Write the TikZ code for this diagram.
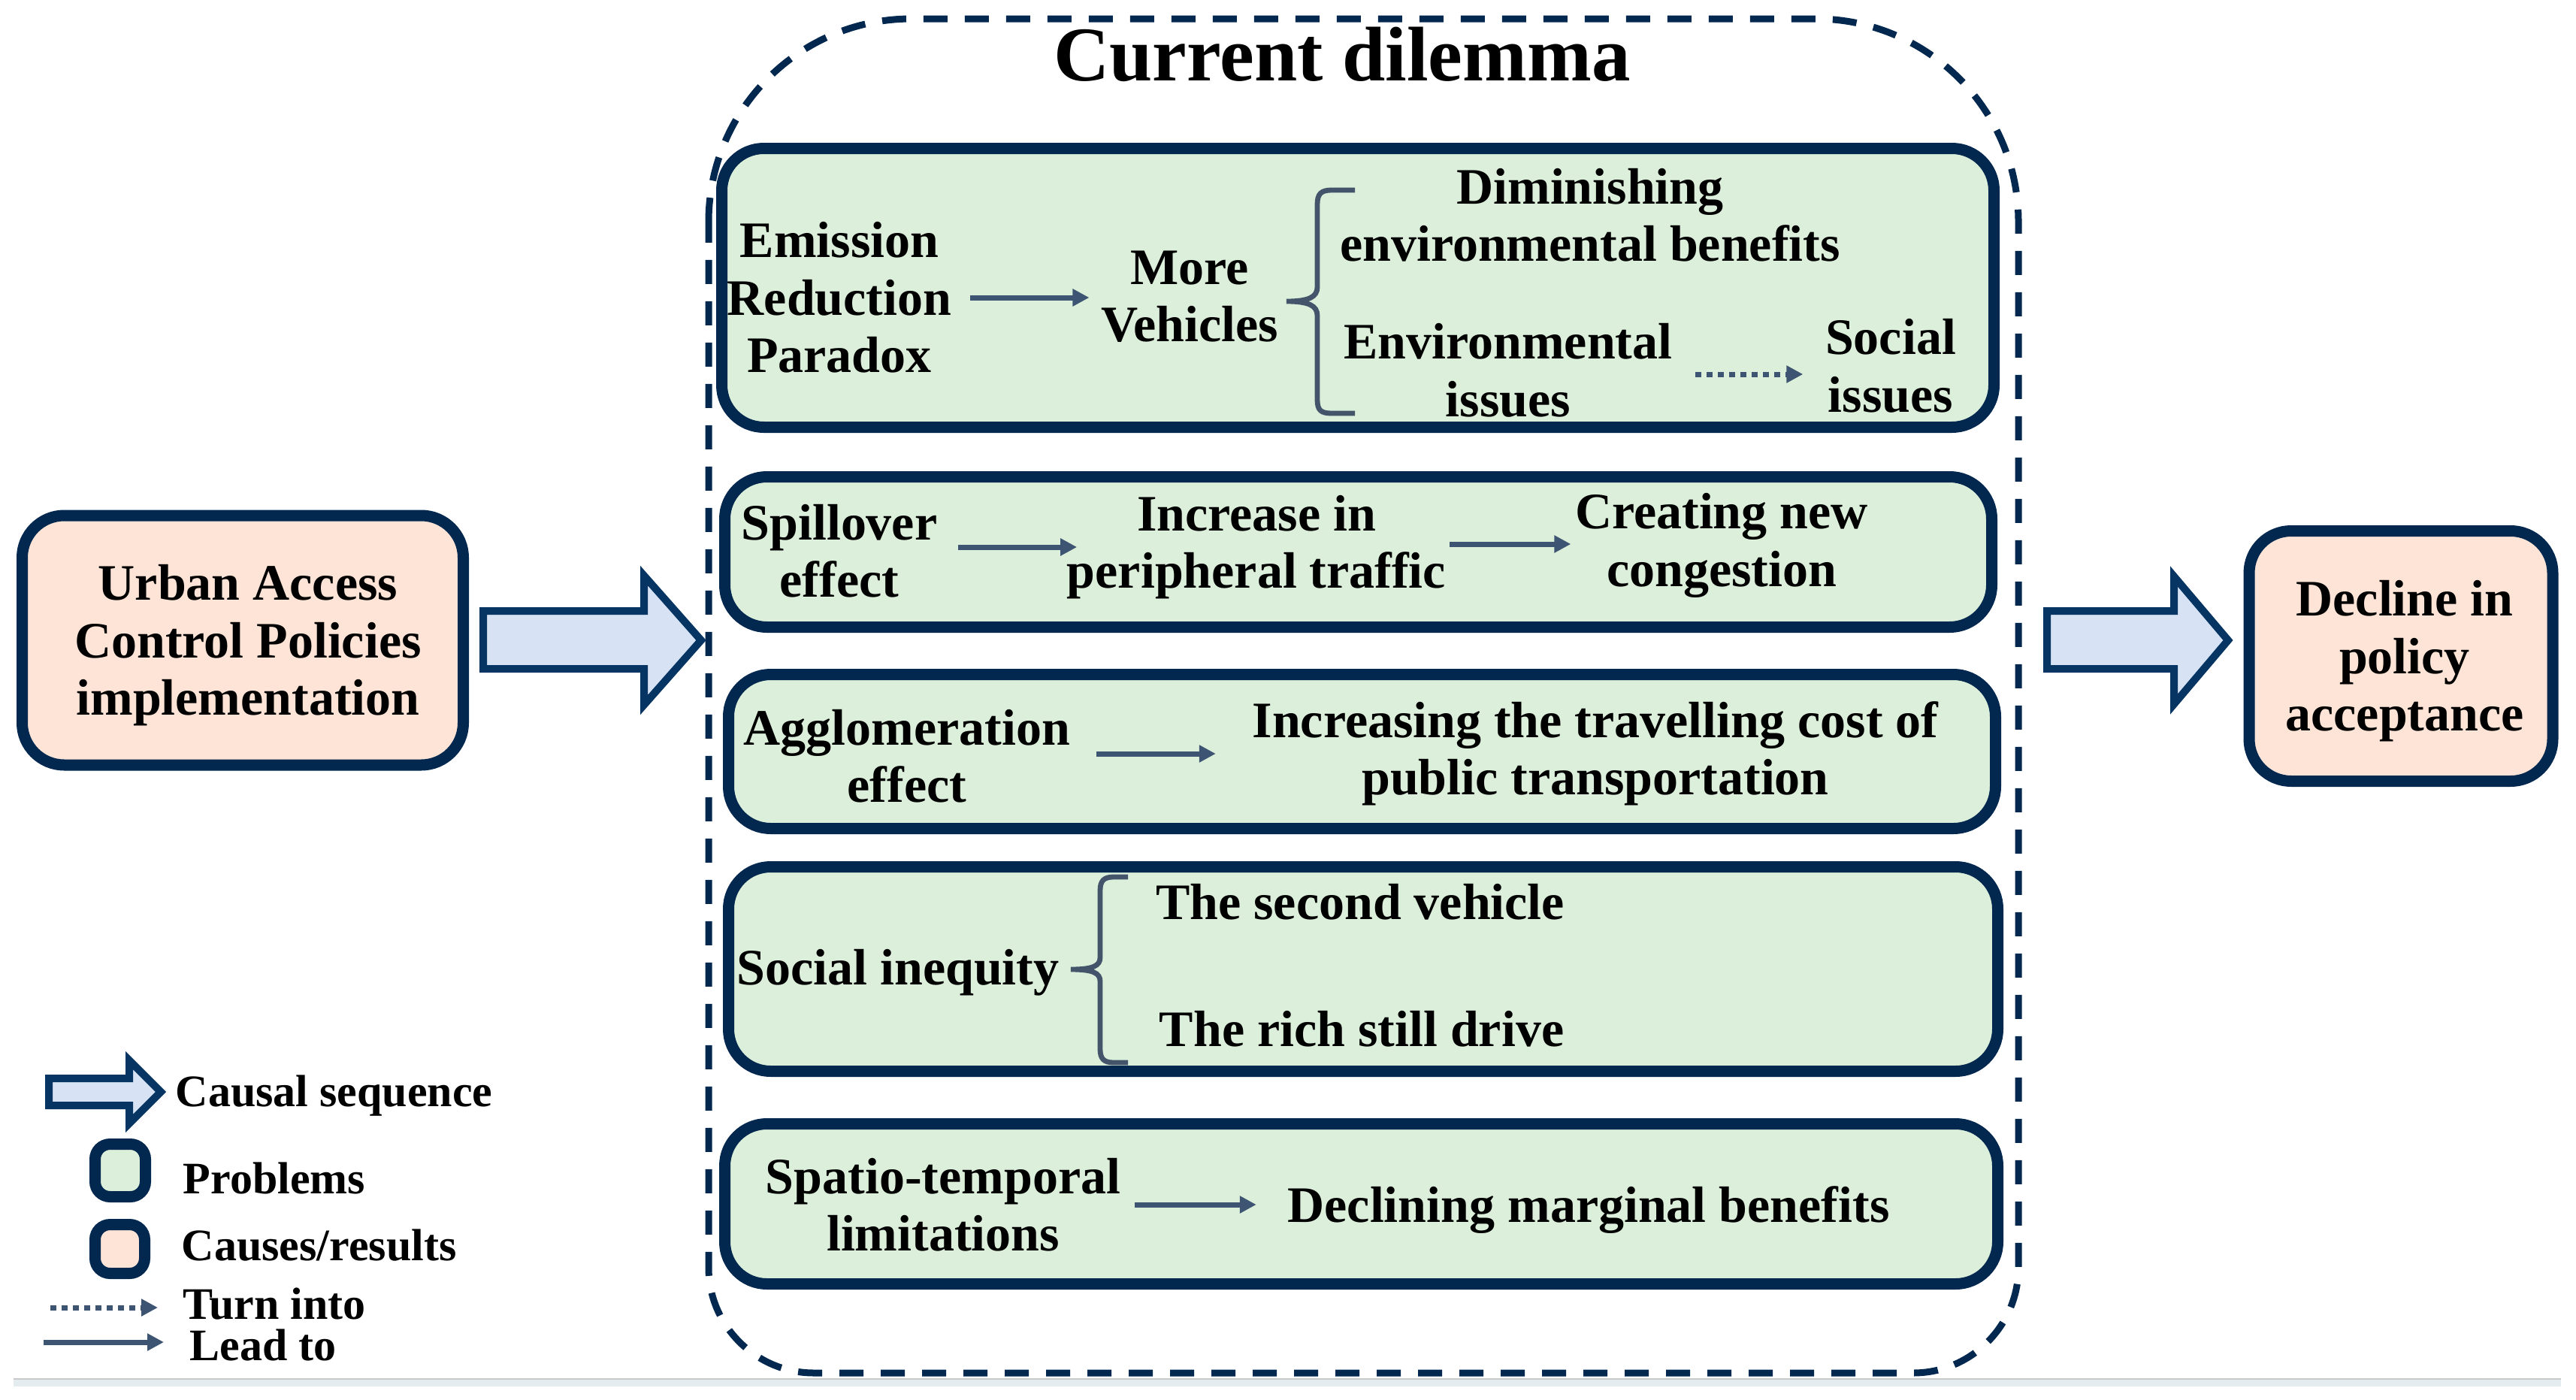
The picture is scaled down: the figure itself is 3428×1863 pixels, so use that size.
\documentclass[tikz,border=0pt]{standalone}
\usepackage{fontspec}
\setmainfont{Liberation Serif}
\usetikzlibrary{arrows.meta}
\definecolor{navy}{HTML}{03284F}
\definecolor{probgreen}{HTML}{DCEFDA}
\definecolor{peach}{HTML}{FDE4D6}
\definecolor{arrowfill}{HTML}{D7E3F4}
\definecolor{arrowborder}{HTML}{063563}
\definecolor{conn}{HTML}{3D5572}
\definecolor{bracecol}{HTML}{44546A}
\definecolor{bandfill}{HTML}{E4ECF0}
\definecolor{bandline}{HTML}{C9C9C9}
\begin{document}
\begin{tikzpicture}[x=0.25pt,y=-0.25pt,
  txt/.style={font=\fontsize{17}{19.1}\selectfont\bfseries, align=center, inner sep=0pt, text=black},
  legtxt/.style={font=\fontsize{15}{17}\selectfont\bfseries, anchor=west, inner sep=0pt, text=black},
  probbox/.style={draw=navy, line width=3.75pt, fill=probgreen, rounded corners=14pt},
  causebox/.style={draw=navy, line width=3.75pt, fill=peach, rounded corners=14pt},
  lead/.style={draw=conn, line width=1.75pt, -{Triangle[length=5.5pt,width=5.5pt]}},
  turn/.style={lead, dash pattern=on 2pt off 1.75pt},
  bigarrow/.style={draw=arrowborder, line width=2.5pt, fill=arrowfill, line join=miter},
  container/.style={draw=navy, line width=2.25pt, dash pattern=on 8pt off 5.75pt},
  bracestyle/.style={draw=bracecol, line width=1.7pt}
]
\useasboundingbox (0,0) rectangle (3428,1863);

% bottom band
\fill[bandfill] (18,1835) rectangle (3408,1845);
\draw[bandline, line width=0.5pt] (18,1835) -- (3408,1835);

% dashed container
\draw[container] (943,295) .. controls (943,146) and (1064,25) .. (1213,25) -- (2416,25)
  .. controls (2565,25) and (2686,146) .. (2686,295) -- (2686,1687)
  .. controls (2686,1764) and (2623,1827) .. (2546,1827) -- (1083,1827)
  .. controls (1006,1827) and (943,1764) .. (943,1687) -- cycle;

\node[font=\fontsize{25.75}{30}\selectfont\bfseries, anchor=base, inner sep=0pt] (title) at (1786,108) {Current dilemma};

% problem boxes
\draw[probbox] (960.5,197.5) rectangle (2653.5,568.5);
\draw[probbox] (964.5,634.5) rectangle (2650.5,834.5);
\draw[probbox] (969.5,897.5) rectangle (2655.5,1102.5);
\draw[probbox] (969.5,1153.5) rectangle (2658.5,1425.5);
\draw[probbox] (964.5,1495.5) rectangle (2658.5,1708.5);

% box 1
\node[txt] (erp) at (1117,396) {Emission\\Reduction\\Paradox};
\node[txt] (mv) at (1583,395) {More\\Vehicles};
\node[txt] (deb) at (2116,286) {Diminishing\\environmental benefits};
\node[txt] (ei) at (2007,493) {Environmental\\issues};
\node[txt] (si) at (2516,487) {Social\\issues};
\draw[lead, shorten <=6pt, shorten >=3.75pt] (erp.east) -- (erp.east -| mv.west);
\draw[turn, shorten <=7.5pt, shorten >=7.25pt] ([yshift=-1.25pt]ei.east) -- ([yshift=-1.25pt]ei.east -| si.west);
\draw[bracestyle] (1803,253) -- (1772,253) .. controls (1758,253) and (1753,258) .. (1753,272)
  -- (1753,382) .. controls (1753,395) and (1742,401) .. (1712,401)
  .. controls (1742,401) and (1753,407) .. (1753,420)
  -- (1753,532) .. controls (1753,546) and (1758,550) .. (1772,550) -- (1803,550);

% box 2
\node[txt] (spill) at (1117,733) {Spillover\\effect};
\node[txt] (incr) at (1672,728) {Increase in\\peripheral traffic};
\node[txt] (cng) at (2291,726) {Creating new\\congestion};
\draw[lead, shorten <=6.75pt, shorten >=-3.5pt] ([yshift=1.25pt]spill.east) -- ([yshift=1.25pt]spill.east -| incr.west);
\draw[lead, shorten <=1pt, shorten >=1.25pt] ([yshift=1pt]incr.east) -- ([yshift=1pt]incr.east -| cng.west);

% box 3
\node[txt] (aggl) at (1207,1006) {Agglomeration\\effect};
\node[txt] (cost) at (2123,1003) {Increasing the travelling cost of\\public transportation};
\draw[lead, shorten <=8.5pt, shorten >=12pt] ([yshift=0.75pt]aggl.east) -- ([yshift=0.75pt]aggl.east -| cost.west);

% box 4
\node[txt] (ineq) at (1195,1294) {Social inequity};
\node[txt] (second) at (1810,1200) {The second vehicle};
\node[txt] (rich) at (1812,1369) {The rich still drive};
\draw[bracestyle] (1501,1167) -- (1482,1167) .. controls (1469,1167) and (1464,1172) .. (1464,1185)
  -- (1464,1274) .. controls (1464,1285) and (1455,1290) .. (1425,1290)
  .. controls (1455,1290) and (1464,1295) .. (1464,1306)
  -- (1464,1396) .. controls (1464,1409) and (1469,1414) .. (1482,1414) -- (1501,1414);

% box 5
\node[txt] (spat) at (1255,1603) {Spatio-temporal\\limitations};
\node[txt] (declm) at (2114,1610) {Declining marginal benefits};
\draw[lead, shorten <=4.5pt, shorten >=10.25pt] (spat.east) -- (spat.east -| declm.west);

% cause / result boxes
\node[causebox, minimum width=146.75pt, minimum height=83pt] (uacp) at (323,852) {};
\node[txt] (uacpt) at (330,859) {Urban Access\\Control Policies\\implementation};
\node[causebox, minimum width=101pt, minimum height=83.25pt] (dpa) at (3195,873) {};
\node[txt] (dpat) at (3200,880) {Decline in\\policy\\acceptance};

% big arrows
\draw[bigarrow] (643,813) -- (857,813) -- (857,766) -- (933,852) -- (857,938) -- (857,890) -- (643,890) -- cycle;
\draw[bigarrow] (2724,813) -- (2893,813) -- (2893,767) -- (2965,852) -- (2893,937) -- (2893,890) -- (2724,890) -- cycle;

% legend
\draw[bigarrow] (65,1435) -- (172,1435) -- (172,1411) -- (214,1453) -- (172,1495) -- (172,1471) -- (65,1471) -- cycle;
\node[legtxt] (lcausal) at (233,1458) {Causal sequence};
\node[probbox, rounded corners=5pt, minimum width=16.75pt, minimum height=17.5pt, inner sep=0pt] (lprob) at (160,1557.5) {};
\node[legtxt] (lprobt) at (243,1568) {Problems};
\node[causebox, rounded corners=5pt, minimum width=16.5pt, minimum height=16.25pt, inner sep=0pt] (lcause) at (159.5,1662) {};
\node[legtxt] (lcauset) at (241,1657) {Causes/results};
\coordinate (t1) at (67,1740);
\coordinate (t2) at (210,1740);
\draw[turn] (t1) -- (t2);
\node[legtxt] (lturn) at (243,1735) {Turn into};
\coordinate (l1) at (58,1786);
\coordinate (l2) at (218,1786);
\draw[lead] (l1) -- (l2);
\node[legtxt] (llead) at (252,1790) {Lead to};
\end{tikzpicture}
\end{document}
